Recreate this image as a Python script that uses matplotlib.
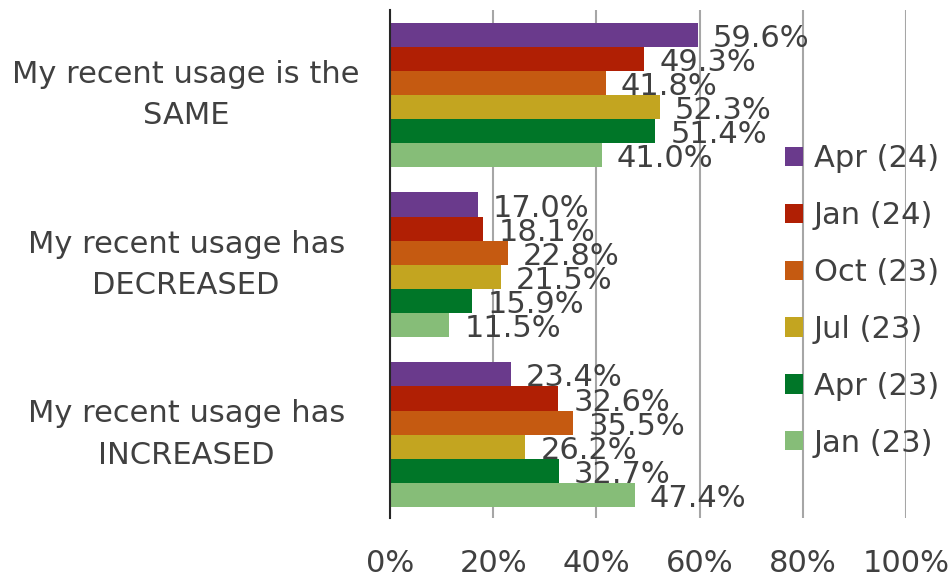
import numpy as np
import matplotlib.pyplot as plt

categories = ["My recent usage is the\nSAME",
              "My recent usage has\nDECREASED",
              "My recent usage has\nINCREASED"]
series = ["Apr (24)", "Jan (24)", "Oct (23)", "Jul (23)", "Apr (23)", "Jan (23)"]
apr24 = [59.6, 17.0, 23.4]
jan24 = [49.3, 18.1, 32.6]
oct23 = [41.8, 22.8, 35.5]
jul23 = [52.3, 21.5, 26.2]
apr23 = [51.4, 15.9, 32.7]
jan23 = [41.0, 11.5, 47.4]
colors = ["#6A3A8C", "#B01F04", "#C55A11", "#C3A520", "#007628", "#86BD78"]

values = [apr24, jan24, oct23, jul23, apr23, jan23]
text_color = "#404040"
fs = 22

fig = plt.figure(figsize=(9.51, 5.81), dpi=100)
ax = fig.add_axes([390 / 951, 1 - 518 / 581, 516 / 951, 508 / 581])

y = np.arange(len(categories))
h = 0.142
for i, (name, vals) in enumerate(zip(series, values)):
    pos = y - 2.5 * h + i * h
    bars = ax.barh(pos, vals, height=h, color=colors[i], label=name, zorder=3)
    for b, v in zip(bars, vals):
        ax.annotate(f"{v:.1f}%", (v, b.get_y() + h / 2), xytext=(11, -2.5),
                    textcoords="offset points", va="center", ha="left",
                    fontsize=fs, color=text_color, zorder=4)

ax.set_xlim(0, 100)
ax.set_ylim(2.49, -0.5)
ax.set_xticks(np.arange(0, 101, 20))
ax.set_xticklabels([f"{t}%" for t in range(0, 101, 20)], fontsize=fs, color=text_color)
ax.tick_params(axis="x", length=0, pad=22)

# category labels, centred in the left margin
for yy, cat in zip(y, categories):
    ax.text(-0.395, yy, cat, transform=ax.get_yaxis_transform(), ha="center", va="center",
            multialignment="center", fontsize=fs, color=text_color, linespacing=1.55,
            clip_on=False)
ax.set_yticks([])

ax.grid(axis="x", color="#A6A6A6", linewidth=1.5, zorder=0)
for s in ["top", "right", "bottom"]:
    ax.spines[s].set_visible(False)
ax.spines["left"].set_color("#262626")
ax.spines["left"].set_linewidth(1.5)
ax.spines["left"].set_zorder(5)

leg = fig.legend(loc="upper left", bbox_to_anchor=(757 / 951, 1 - 117 / 581), frameon=False,
                 fontsize=fs, handlelength=0.6, handleheight=0.6, handletextpad=0.35,
                 labelspacing=0.91)
for t in leg.get_texts():
    t.set_color(text_color)

fig.savefig("out.png", dpi=100)
